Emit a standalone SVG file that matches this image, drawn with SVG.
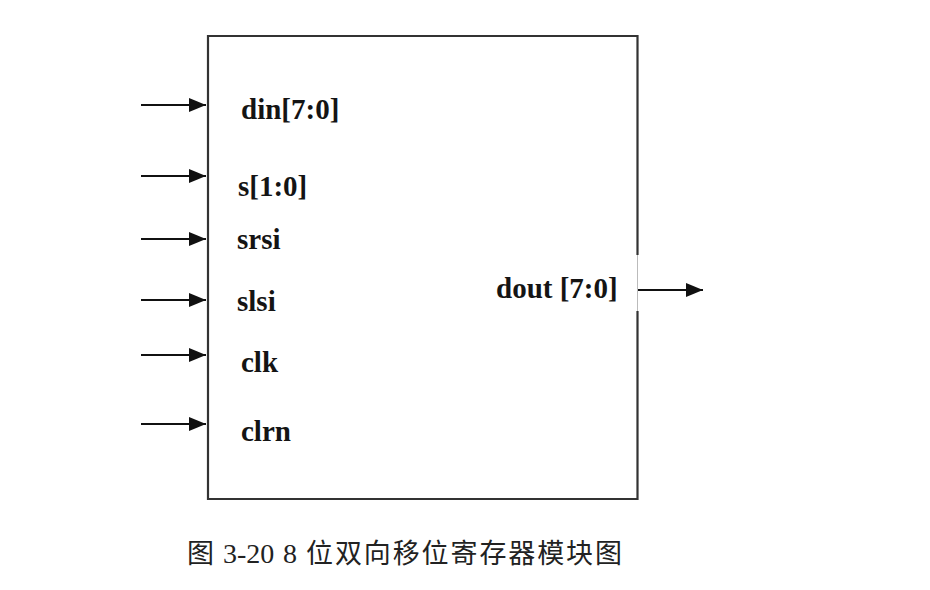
<svg xmlns="http://www.w3.org/2000/svg" width="930" height="590" viewBox="0 0 930 590">
<defs>
<style>
.lbl{font-family:"Liberation Serif","Times New Roman",serif;font-weight:bold;font-size:29px;fill:#141414}
.cap{font-family:"Liberation Serif","Noto Sans CJK SC",serif;font-size:28px;fill:#222}
.cjk{font-family:"Noto Sans CJK SC","Liberation Serif",serif;font-size:27px;fill:#222}
.wire{stroke:#111;stroke-width:2;fill:none}
.border{stroke:#333;stroke-width:2.2;fill:none}
</style>
<marker id="ah" markerWidth="17" markerHeight="14" refX="17" refY="7" orient="auto" markerUnits="userSpaceOnUse">
<path d="M0,0 L17,7 L0,14 Z" fill="#111"/>
</marker>
</defs>
<rect width="930" height="590" fill="#fff"/>
<g id="module">
<path class="border" d="M637.5,255 L637.5,36 L208,36 L208,499 L637.5,499 L637.5,311"/>
<line x1="637.5" y1="255" x2="637.5" y2="311" stroke="#bbb" stroke-width="1"/>
<text class="lbl" x="241" y="119">din[7:0]</text>
<text class="lbl" x="238" y="196">s[1:0]</text>
<text class="lbl" x="237" y="249">srsi</text>
<text class="lbl" x="237" y="311">slsi</text>
<text class="lbl" x="241" y="372">clk</text>
<text class="lbl" x="241" y="441">clrn</text>
<text class="lbl" x="496" y="298">dout [7:0]</text>
</g>
<g id="connectors">
<line class="wire" x1="141" y1="105" x2="206" y2="105" marker-end="url(#ah)"/>
<line class="wire" x1="141" y1="176" x2="206" y2="176" marker-end="url(#ah)"/>
<line class="wire" x1="141" y1="239" x2="206" y2="239" marker-end="url(#ah)"/>
<line class="wire" x1="141" y1="300" x2="206" y2="300" marker-end="url(#ah)"/>
<line class="wire" x1="141" y1="355" x2="206" y2="355" marker-end="url(#ah)"/>
<line class="wire" x1="141" y1="424" x2="206" y2="424" marker-end="url(#ah)"/>
<line class="wire" x1="638" y1="290" x2="703" y2="290" marker-end="url(#ah)"/>
</g>
<g id="caption">
<text class="cjk" x="187" y="563">图</text>
<text class="cap" x="223" y="563">3-20</text>
<text class="cap" x="283" y="563">8</text>
<text class="cjk" x="306" y="563" textLength="316" lengthAdjust="spacing">位双向移位寄存器模块图</text>
</g>
</svg>
